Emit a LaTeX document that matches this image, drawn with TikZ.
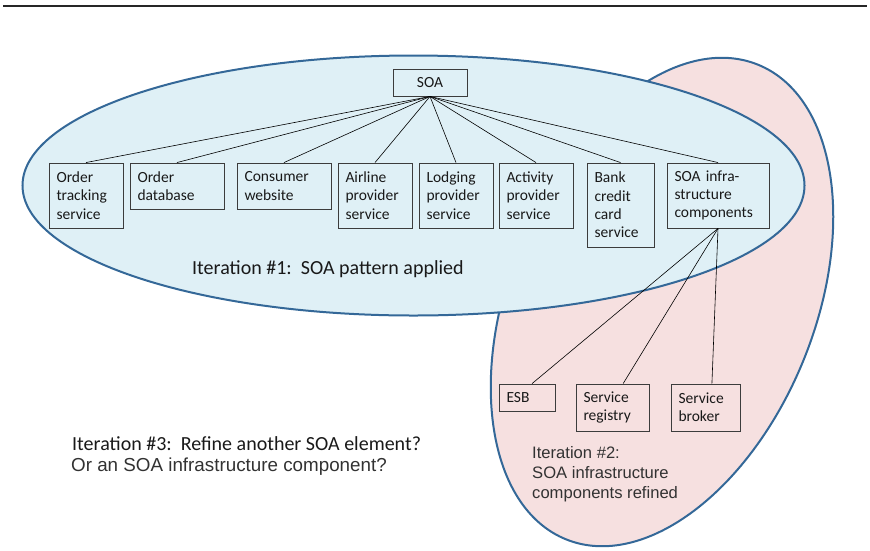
\documentclass[tikz,border=0pt]{standalone}
\usepackage{fontspec}
\setmainfont{Carlito}
\newfontfamily\arialf{Liberation Sans}
\definecolor{bluefill}{RGB}{223,240,246}
\definecolor{pinkfill}{RGB}{246,224,224}
\definecolor{edgec}{RGB}{52,104,152}
\definecolor{boxc}{RGB}{60,60,60}
\definecolor{txtc}{RGB}{25,25,25}
\definecolor{graytxt}{RGB}{50,50,50}
\begin{document}
\begin{tikzpicture}[x=1pt,y=-1pt,
  region/.style={line width=2pt, draw=edgec},
  stepbox/.style={draw=boxc, line width=0.9pt, inner xsep=7.5pt, inner ysep=0pt,
    align=left, text=txtc, font=\fontsize{15.5}{18.3}\selectfont},
  link/.style={draw=black, line width=0.6pt},
  caption/.style={inner sep=0pt, text=txtc, font=\fontsize{20}{21}\selectfont},
  acaption/.style={inner sep=0pt, align=left, text=graytxt, font=\arialf\fontsize{16.6}{20}\selectfont}
]
\useasboundingbox (0,0) rectangle (870,550);
% top rule
\draw[line width=1.4pt, draw=black!85] (3,6) -- (867,6);
% regions
\fill[pinkfill, rotate around={-22:(662,302)}] (662,302) ellipse [x radius=153, y radius=256];
\draw[region, rotate around={-22:(662,302)}] (662,302) ellipse [x radius=153, y radius=256];
\fill[bluefill] (413.5,185.5) ellipse [x radius=391, y radius=130];
\draw[region] (413.5,185.5) ellipse [x radius=391, y radius=130];
% boxes
\node[stepbox, align=center, minimum width=74pt, minimum height=27pt, text width=59pt] (soa) at (430,82.5) {SOA};
\node[stepbox, minimum height=65pt, text width=59pt] (ots) at (86,195.5) {Order\\tracking\\service};
\node[stepbox, minimum height=46pt, text width=79pt] (odb) at (177,186) {Order\\database};
\node[stepbox, minimum height=46pt, text width=79pt] (cw) at (284,186) {Consumer\\website};
\node[stepbox, minimum height=65pt, text width=59pt] (aps) at (375,195.5) {Airline\\provider\\service};
\node[stepbox, minimum height=65pt, text width=59pt] (lps) at (456,195.5) {Lodging\\provider\\service};
\node[stepbox, minimum height=65pt, text width=59pt] (acs) at (536,195.5) {Activity\\provider\\service};
\node[stepbox, minimum height=84pt, text width=52pt] (bcc) at (620.5,205) {Bank\\credit\\card\\service};
\node[stepbox, minimum height=65pt, text width=87pt] (inf) at (718,195.5) {SOA infra-\\structure\\components};
\node[stepbox, minimum height=27pt, text width=41pt] (esb) at (527,397.5) {ESB};
\node[stepbox, minimum height=47pt, text width=58pt] (reg) at (612.5,407.5) {Service\\registry};
\node[stepbox, minimum height=47pt, text width=54pt] (brk) at (705.5,407.5) {Service\\broker};
% connectors
\foreach \t in {ots,odb,cw,aps,lps,acs,bcc,inf} \draw[link] (soa.south) -- (\t.north);
\draw[link] (inf.south) -- (esb.70);
\draw[link] (inf.south) -- (reg.66);
\draw[link] (inf.south) -- (brk.75);
% captions
\node[caption, anchor=base west] (it1) at (192,274) {Iteration \#1:\ \ SOA pattern applied};
\node[caption, anchor=base west] (it3) at (72,450) {Iteration \#3:\ \ Refine another SOA element?};
\node[acaption, anchor=base west, font=\arialf\fontsize{18.8}{21}\selectfont] (it3b) at (71,471) {Or an SOA infrastructure component?};
\node[acaption, anchor=north west] (it2) at (532,446) {Iteration \#2:\\SOA infrastructure\\components refined};
\end{tikzpicture}
\end{document}
